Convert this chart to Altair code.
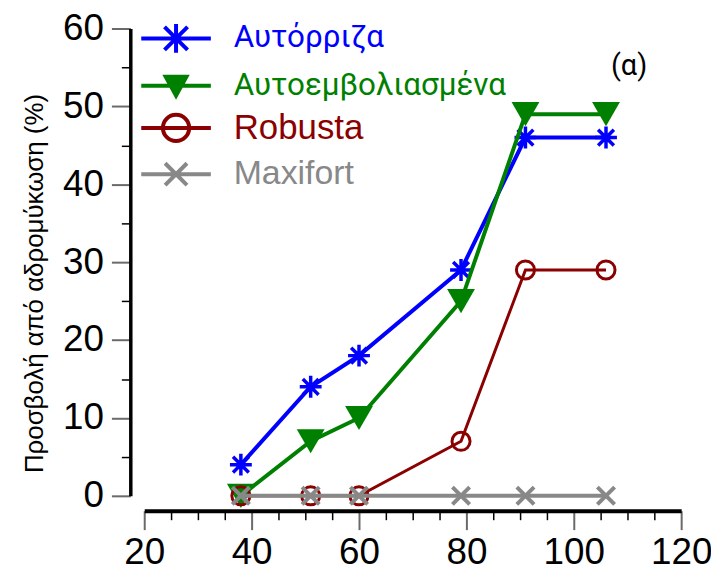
import altair as alt
import pandas as pd

# ---- data ----
x_vals = [38, 51, 60, 79, 91, 106]
series_names = ["Αυτόρριζα", "Αυτοεμβολιασμένα", "Robusta", "Maxifort"]
y_autorriza = [4, 14, 18, 29, 46, 46]
y_autoemvol = [0, 7, 10, 25, 49, 49]
y_robusta = [0, 0, 0, 7, 29, 29]
y_maxifort = [0, 0, 0, 0, 0, 0]
colors = ["#0000FF", "#008000", "#8B0000", "#888888"]

x_major = [20, 40, 60, 80, 100, 120]
x_minor = [25, 30, 35, 45, 50, 55, 65, 70, 75, 85, 90, 95, 105, 110, 115]
y_major = [0, 10, 20, 30, 40, 50, 60]
y_minor = [5, 15, 25, 35, 45, 55]

y_title = "Προσβολή από αδρομύκωση (%)"
panel_label = ["(α)"]
panel_label_x = [110.3]
panel_label_y = [55.2]

rows = []
for name, ys in zip(series_names, [y_autorriza, y_autoemvol, y_robusta, y_maxifort]):
    for xv, yv in zip(x_vals, ys):
        rows.append({"x": xv, "y": yv, "series": name})
df = pd.DataFrame(rows)
ann = pd.DataFrame({"x": panel_label_x, "y": panel_label_y, "label": panel_label})

# ---- marker shapes ----
ASTER = "M0,-1V1M-1,0H1M-0.72,-0.72L0.72,0.72M-0.72,0.72L0.72,-0.72"
XSHAPE = "M-1,-1L1,1M-1,1L1,-1"
LINE = "M-1.75,0H1.75"
L_ASTER = LINE + "M0,-0.72V0.72M-0.58,-0.58L0.58,0.58M-0.58,0.58L0.58,-0.58"
L_TRI = LINE + "M-0.52,-0.45L0.52,-0.45L0,0.5Z"
L_CIRC = LINE + "M0.66,0A0.66,0.66 0 1,1 -0.66,0A0.66,0.66 0 1,1 0.66,0Z"
L_X = LINE + "M-0.55,-0.55L0.55,0.55M-0.55,0.55L0.55,-0.55"


def by_index(vals):
    v = [f"'{s}'" if isinstance(s, str) else str(s) for s in vals]
    return f"datum.index == 0 ? {v[0]} : datum.index == 1 ? {v[1]} : datum.index == 2 ? {v[2]} : {v[3]}"


color_scale = alt.Scale(domain=series_names, range=colors)
xscale = alt.Scale(domain=[20, 120], nice=False, zero=False)
yscale = alt.Scale(domain=[0, 60], nice=False)

x_axis_major = alt.Axis(
    orient="bottom", values=x_major, offset=15, title=None, grid=False,
    domainColor="black", domainWidth=4, tickColor="#6a6a6a", tickWidth=2,
    tickSize=19, labelFont="Liberation Sans", labelFontSize=37,
    labelColor="black", labelPadding=5, labelFlush=False, labelOverlap=False,
)
y_axis_major = alt.Axis(
    orient="left", values=y_major, offset=14, title=y_title, grid=False,
    domainColor="black", domainWidth=3.5, tickColor="#6a6a6a", tickWidth=2,
    tickSize=19, labelFont="Liberation Sans", labelFontSize=37,
    labelColor="black", labelPadding=8, labelFlush=False, labelOverlap=False,
    titleFont="Liberation Sans", titleFontSize=26, titleFontWeight="normal",
    titleColor="black", titleX=-83, titleY=256, titleAngle=270,
    titleBaseline="bottom", titleAlign="center",
)
x_axis_minor = alt.Axis(
    orient="bottom", values=x_minor, offset=15, title=None, grid=False,
    domain=False, labels=False, tickColor="black", tickWidth=1.5, tickSize=9,
)
y_axis_minor = alt.Axis(
    orient="left", values=y_minor, offset=14, title=None, grid=False,
    domain=False, labels=False, tickColor="black", tickWidth=1.5, tickSize=9,
)

legend = alt.Legend(
    orient="none", legendX=10, legendY=-12, title=None, padding=0,
    symbolSize=1600, symbolStrokeWidth=4,
    symbolType={"expr": by_index([L_ASTER, L_TRI, L_CIRC, L_X])},
    symbolFillColor={"expr": by_index(["transparent", colors[1], "transparent", "transparent"])},
    symbolOpacity=1,
    labelLimit=600,
    labelFont={"expr": by_index(["Roboto", "Roboto", "Liberation Sans", "Liberation Sans"])},
    labelFontSize={"expr": by_index([31.5, 31.5, 35, 34])},
    labelColor={"expr": by_index(colors)},
    labelOffset=36, rowPadding=2.5,
)

base = alt.Chart(df)
layers = []
point_specs = [
    dict(shape=ASTER, size=484, filled=False, strokeWidth=3.5),
    dict(shape="triangle-down", size=784, filled=True, strokeWidth=0),
    dict(shape="circle", size=330, filled=False, strokeWidth=3),
    dict(shape=XSHAPE, size=300, filled=False, strokeWidth=4),
]
line_widths = [4, 4, 3, 4]
for i, name in enumerate(series_names):
    sub = base.transform_filter(alt.datum.series == name)
    first = i == 0
    line = sub.mark_line(strokeWidth=line_widths[i]).encode(
        x=alt.X("x:Q", scale=xscale, axis=x_axis_major if first else None),
        y=alt.Y("y:Q", scale=yscale, axis=y_axis_major if first else None),
        color=alt.Color("series:N", scale=color_scale, legend=legend if first else None,
                        sort=series_names),
    )
    pts = sub.mark_point(opacity=1, **point_specs[i]).encode(
        x=alt.X("x:Q", scale=xscale, axis=None),
        y=alt.Y("y:Q", scale=yscale, axis=None),
        color=alt.value(colors[i]),
    )
    layers += [line, pts]

label = alt.Chart(ann).mark_text(
    font="Roboto", fontSize=29, color="black", align="center", baseline="middle"
).encode(
    x=alt.X("x:Q", scale=xscale, axis=x_axis_minor),
    y=alt.Y("y:Q", scale=yscale, axis=y_axis_minor),
    text="label:N",
)
layers.append(label)

chart = alt.layer(*layers).resolve_axis(
    x="independent", y="independent"
).properties(
    width=540, height=470, autosize="none",
    padding={"left": 137, "top": 19, "right": 30, "bottom": 75},
    background="white",
).configure_view(stroke=None)

chart.save("out.html", embed_options={"renderer": "svg", "actions": False})
